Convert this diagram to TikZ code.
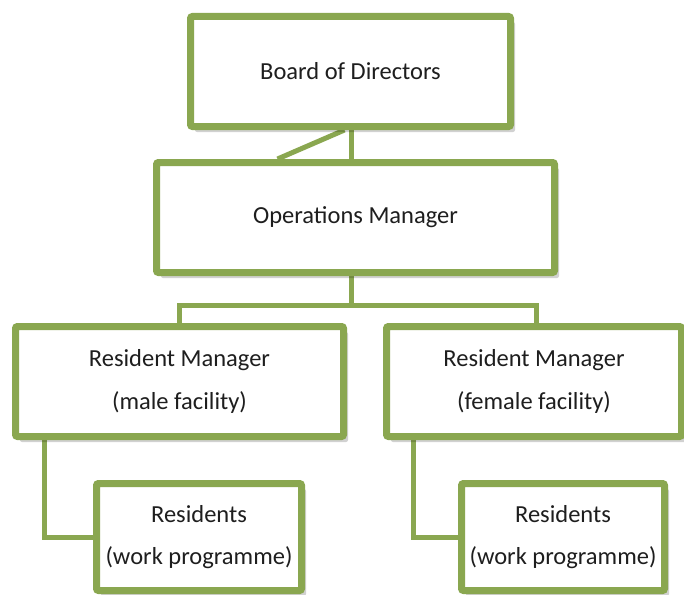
\documentclass[tikz,border=0pt]{standalone}
\usepackage{fontspec}
\setmainfont{Carlito}
\usetikzlibrary{shadows,backgrounds}

\definecolor{boxgreen}{RGB}{138,167,80}
\definecolor{textgray}{RGB}{30,30,30}

\tikzset{
  orgbox/.style={draw=boxgreen, line width=7pt, fill=white, rounded corners=2pt,
    align=center, text=textgray, inner sep=0pt,
    font=\fontsize{24.5}{42.5}\selectfont,
    drop shadow={shadow xshift=4.5pt, shadow yshift=-5.5pt, fill=black, opacity=0.18}},
  link/.style={draw=boxgreen, line width=5pt}
}

\begin{document}
\begin{tikzpicture}[x=1pt, y=-1pt]
      \useasboundingbox (0,0) rectangle (684,594);

      \coordinate (fork) at (351,305);

      \node[orgbox, minimum width=320pt, minimum height=110pt] (board) at (350.5,71.5)
        {Board of Directors};
      \node[orgbox, minimum width=398pt, minimum height=110pt] (ops) at (355.5,217.5)
        {Operations Manager};

      \node[orgbox, minimum width=328pt, minimum height=110pt] (rmale) at (179.5,381.5)
        {Resident Manager\\(male facility)};
      \node[orgbox, minimum width=295pt, minimum height=110pt] (rfem) at (534,381.5)
        {Resident Manager\\(female facility)};

      \node[orgbox, minimum width=205pt, minimum height=107pt] (resm) at (199,537)
        {Residents\\(work programme)};
      \node[orgbox, minimum width=203pt, minimum height=107pt] (resf) at (563,537)
        {Residents\\(work programme)};

      % connectors go under the boxes
      \begin{scope}[on background layer]
      % board -- operations
      \draw[link] ([xshift=0.5pt]board.south) -- ([xshift=0.5pt]board.south |- ops.north);
      \draw[link] ([xshift=-6pt]board.south) -- ([xshift=-78pt]ops.north);

      % operations -- resident managers
      \draw[link] (ops.south -| fork) -- (fork);
      \draw[link] (rmale.north) |- (fork) -| ([xshift=2.5pt]rfem.north);

      % resident managers -- residents
      \draw[link] ([xshift=32.5pt]rmale.south west) |- (resm.west);
      \draw[link] ([xshift=30.5pt]rfem.south west) |- (resf.west);
      \end{scope}
    \end{tikzpicture}
\end{document}
